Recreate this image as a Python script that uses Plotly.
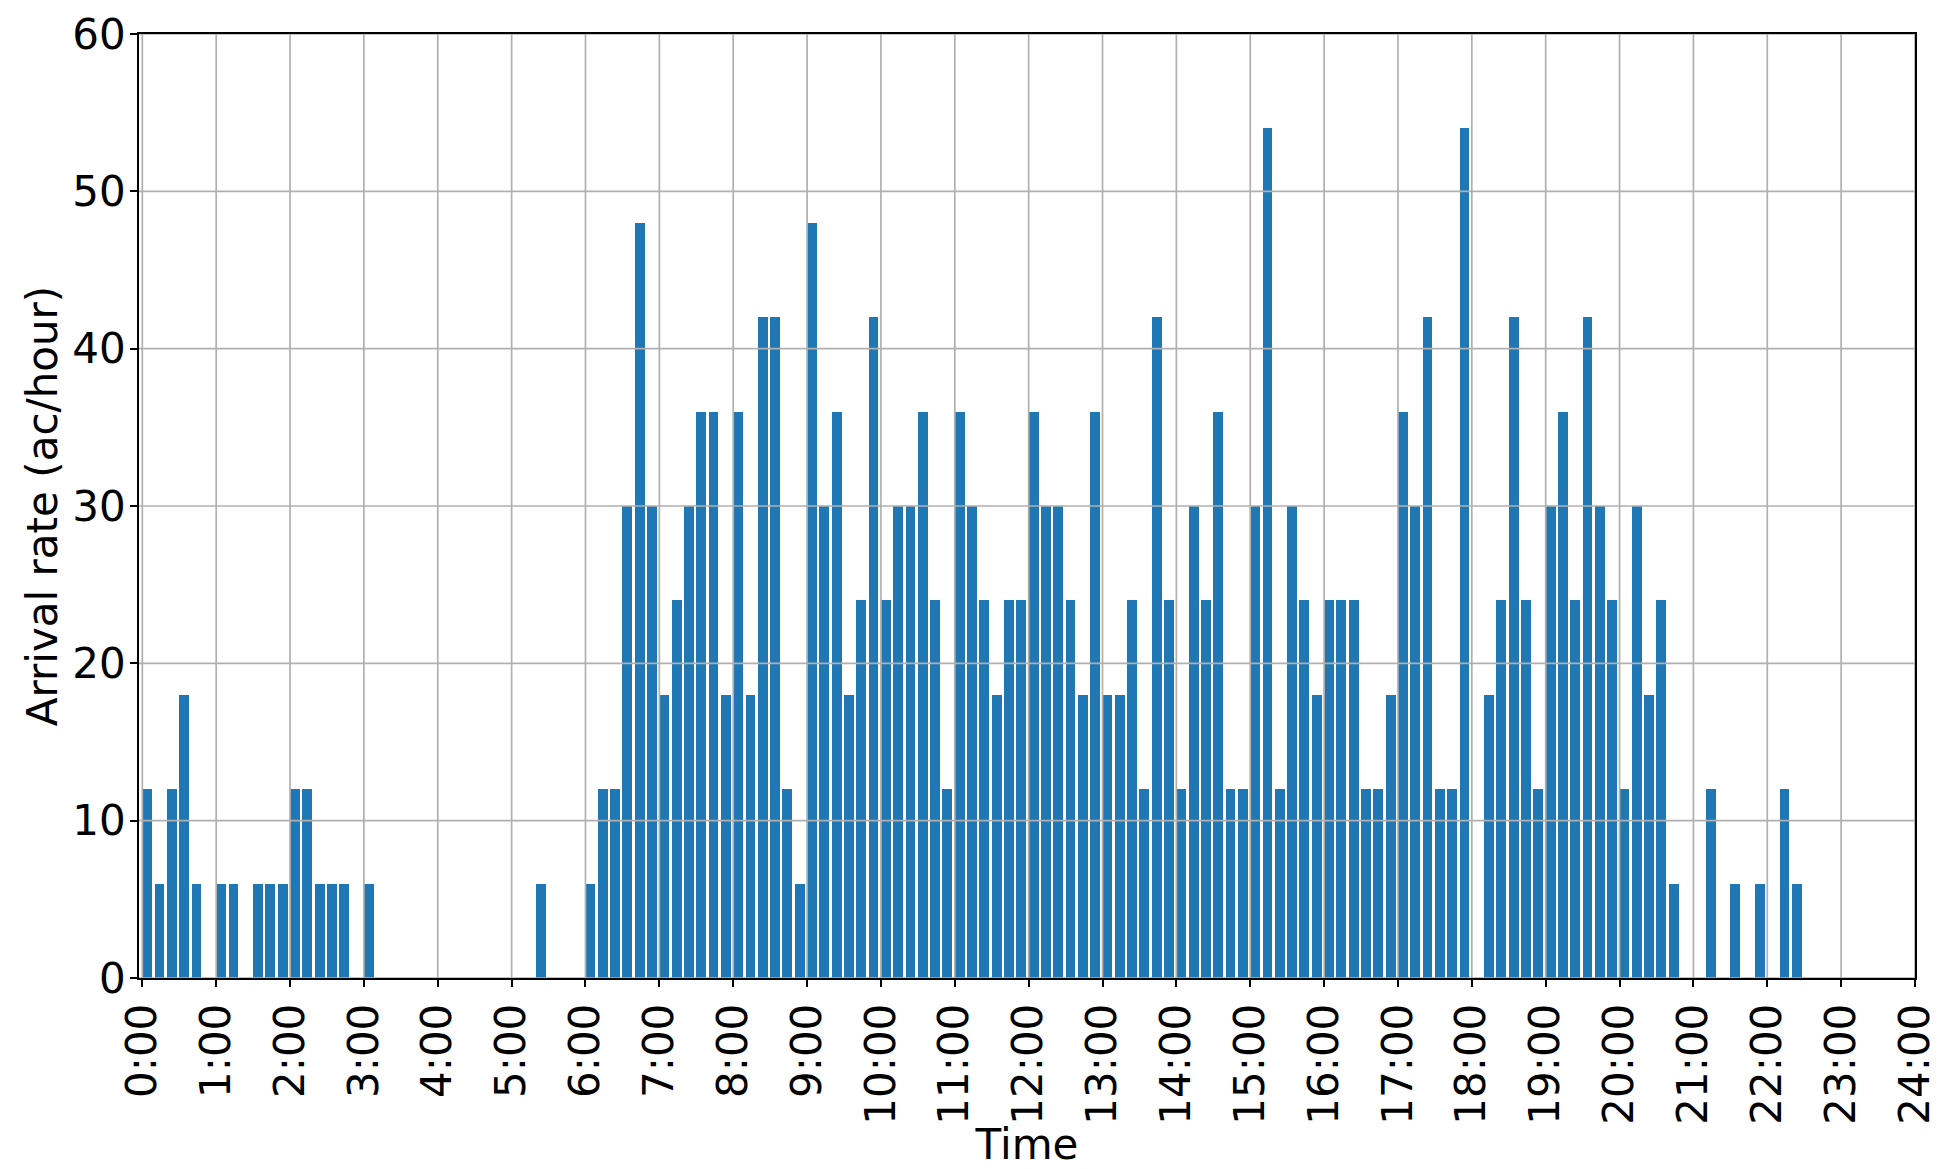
import plotly.graph_objects as go

# 10-minute bins, start time in minutes after midnight
bin_minutes = list(range(0, 1440, 10))

# Arrival rate (ac/hour) per 10-minute bin, 6 bins per hour
rates = [
    12, 6, 12, 18, 6, 0,      # 0:00
    6, 6, 0, 6, 6, 6,         # 1:00
    12, 12, 6, 6, 6, 0,       # 2:00
    6, 0, 0, 0, 0, 0,         # 3:00
    0, 0, 0, 0, 0, 0,         # 4:00
    0, 0, 6, 0, 0, 0,         # 5:00
    6, 12, 12, 30, 48, 30,    # 6:00
    18, 24, 30, 36, 36, 18,   # 7:00
    36, 18, 42, 42, 12, 6,    # 8:00
    48, 30, 36, 18, 24, 42,   # 9:00
    24, 30, 30, 36, 24, 12,   # 10:00
    36, 30, 24, 18, 24, 24,   # 11:00
    36, 30, 30, 24, 18, 36,   # 12:00
    18, 18, 24, 12, 42, 24,   # 13:00
    12, 30, 24, 36, 12, 12,   # 14:00
    30, 54, 12, 30, 24, 18,   # 15:00
    24, 24, 24, 12, 12, 18,   # 16:00
    36, 30, 42, 12, 12, 54,   # 17:00
    0, 18, 24, 42, 24, 12,    # 18:00
    30, 36, 24, 42, 30, 24,   # 19:00
    12, 30, 18, 24, 6, 0,     # 20:00
    0, 12, 0, 6, 0, 6,        # 21:00
    0, 12, 6, 0, 0, 0,        # 22:00
    0, 0, 0, 0, 0, 0,         # 23:00
]

x_tick_vals = list(range(0, 1441, 60))
x_tick_text = [f"{h}:00" for h in range(0, 25)]
y_tick_vals = [0, 10, 20, 30, 40, 50, 60]

FONT = "DejaVu Sans"
FS = 42
GRID = "#b0b0b0"
LW = 1.7

fig = go.Figure()
fig.add_trace(go.Bar(
    x=bin_minutes,
    y=rates,
    width=8,
    offset=0,
    marker=dict(color="#1f77b4", line=dict(width=0)),
    showlegend=False,
))

# gridlines drawn above the bars (as in the reference)
shapes = []
for v in x_tick_vals:
    shapes.append(dict(type="line", xref="x", yref="paper", x0=v, x1=v, y0=0, y1=1,
                       line=dict(color=GRID, width=LW), layer="above"))
for v in y_tick_vals:
    shapes.append(dict(type="line", xref="paper", yref="y", x0=0, x1=1, y0=v, y1=v,
                       line=dict(color=GRID, width=LW), layer="above"))

fig.update_layout(
    width=1945, height=1161,
    margin=dict(l=131, r=38, t=26, b=191, autoexpand=False),
    paper_bgcolor="white", plot_bgcolor="white",
    font=dict(family=FONT, size=FS, color="black"),
    shapes=shapes,
    bargap=0,
)
fig.update_xaxes(
    range=[-2.7, 1440],
    tickmode="array", tickvals=x_tick_vals, ticktext=x_tick_text,
    tickangle=-90,
    ticks="outside", ticklen=7, tickwidth=LW, tickcolor="black",
    showline=True, linecolor="black", linewidth=LW, mirror=True,
    showgrid=False, zeroline=False,
    layer="above traces",
    title=dict(text="Time", font=dict(family=FONT, size=FS), standoff=0),
    automargin=False,
    tickfont=dict(family=FONT, size=FS),
)
fig.update_yaxes(
    range=[0, 60],
    tickmode="array", tickvals=y_tick_vals,
    ticks="outside", ticklen=7, tickwidth=LW, tickcolor="black",
    showline=True, linecolor="black", linewidth=LW, mirror=True,
    showgrid=False, zeroline=False,
    layer="above traces",
    ticklabelstandoff=-4,
    title=dict(text="Arrival rate (ac/hour)", font=dict(family=FONT, size=FS), standoff=2),
    automargin=False,
    tickfont=dict(family=FONT, size=FS),
)

fig.write_html("out.html")
